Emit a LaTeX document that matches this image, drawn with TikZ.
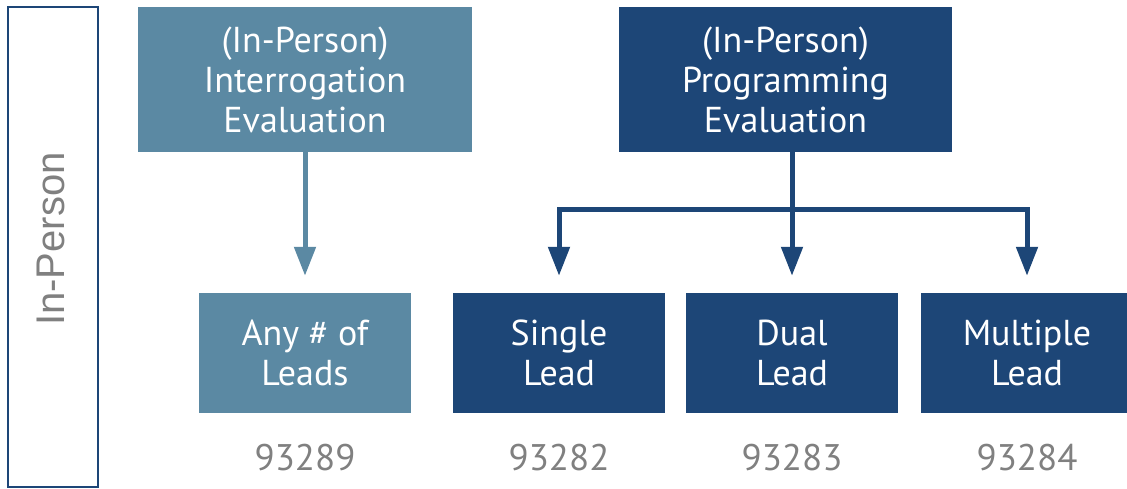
\documentclass[tikz,border=0pt]{standalone}
\usepackage{fontspec}
\setmainfont{PT Sans}
\newfontfamily\sidefont{Liberation Sans}
\usetikzlibrary{arrows.meta}
\definecolor{steel}{HTML}{5B89A3}
\definecolor{navy}{HTML}{1D4677}
\definecolor{numgray}{HTML}{808080}
\begin{document}
\begin{tikzpicture}[x=1pt,y=-1pt,
  box/.style={minimum width=212pt,minimum height=120pt,inner sep=0pt,
    text=white,align=center,font=\fontsize{36}{40}\selectfont},
  topbox/.style={box,minimum height=145pt},
  conn/.style={line width=5pt,-{Triangle[width=21pt,length=29pt]},shorten >=17pt},
  code/.style={text=numgray,font=\fontsize{37}{40}\selectfont}]
\useasboundingbox (0,0) rectangle (1127,489);
% side label
\node[draw=navy,line width=2pt,minimum width=90pt,minimum height=480pt,inner sep=0pt]
  (side) at (53,247) {};
\node[rotate=90,text=numgray,font=\sidefont\fontsize{40}{44}\selectfont] (sidelabel) at (51,239) {In-Person};
% evaluations
\node[topbox,fill=steel,minimum width=334pt] (interr) at (305,79.5)
  {(In-Person)\\Interrogation\\Evaluation};
\node[topbox,fill=navy,minimum width=333pt] (prog) at (785.5,79.5)
  {(In-Person)\\Programming\\Evaluation};
% lead types
\node[box,fill=steel] (any) at (305,353) {Any \# of\\Leads};
\node[box,fill=navy] (single) at (559,353) {Single\\Lead};
\node[box,fill=navy] (dual) at (792,353) {Dual\\Lead};
\node[box,fill=navy] (multi) at (1027,353) {Multiple\\Lead};
% codes
\node[code] (c1) at (305,458) {93289};
\node[code] (c2) at (559,458) {93282};
\node[code] (c3) at (792,458) {93283};
\node[code] (c4) at (1027,458) {93284};
% connectors
\draw[conn,steel] (interr.south) -- (any.north);
\coordinate (bus) at (792,210);
\draw[conn,navy] (dual.north |- prog.south) -- (dual.north);
\draw[conn,navy,line join=miter] (bus) -| (single.north);
\draw[conn,navy,line join=miter] (bus) -| (multi.north);
\end{tikzpicture}
\end{document}
